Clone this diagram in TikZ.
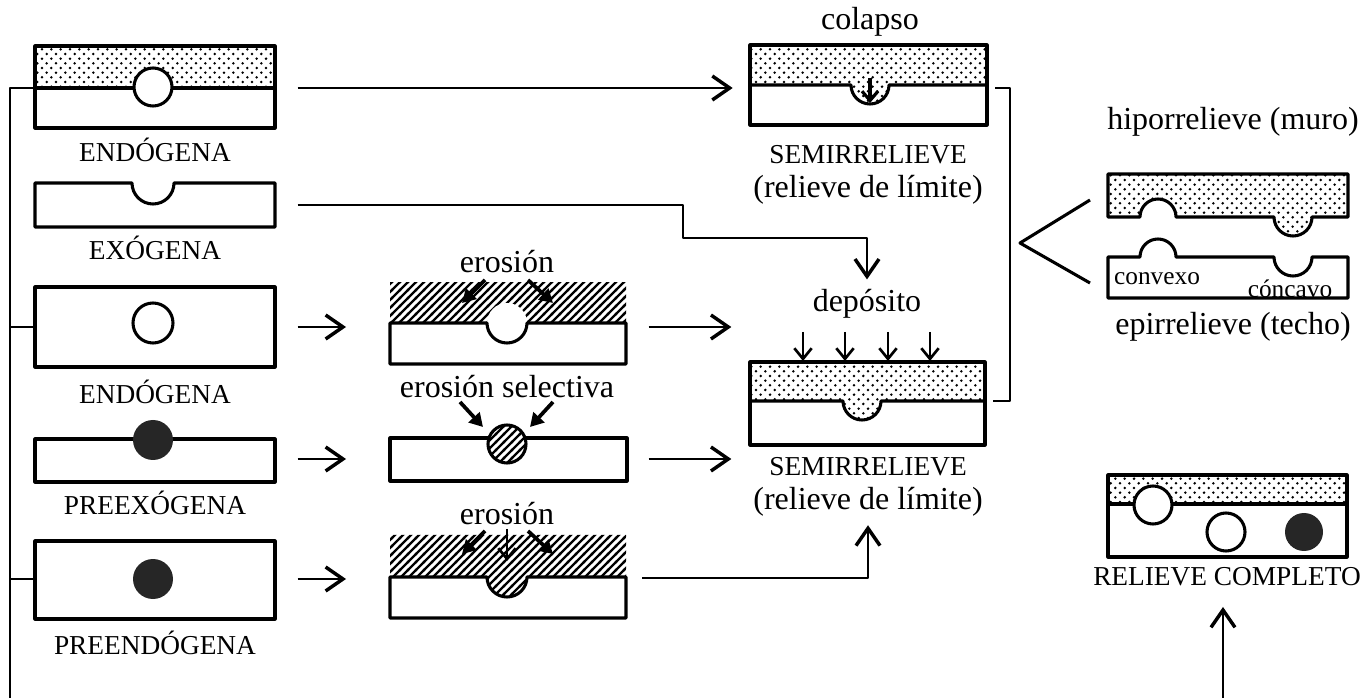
\documentclass[tikz,border=0pt]{standalone}
\usepackage{fontspec}
\setmainfont{Liberation Serif}
\usetikzlibrary{arrows.meta,patterns,calc}
\pgfdeclarepatternformonly{stipple}{\pgfqpoint{-1.5pt}{-1.5pt}}{\pgfqpoint{8.5pt}{8.5pt}}{\pgfqpoint{7pt}{7pt}}{%
  \pgfpathcircle{\pgfqpoint{0pt}{0pt}}{1.05pt}%
  \pgfpathcircle{\pgfqpoint{3.5pt}{3.5pt}}{1.05pt}%
  \pgfusepath{fill}}
\pgfdeclarepatternformonly{hatch}{\pgfqpoint{-1pt}{-1pt}}{\pgfqpoint{7pt}{7pt}}{\pgfqpoint{6pt}{6pt}}{%
  \pgfsetlinewidth{1.7pt}%
  \pgfpathmoveto{\pgfqpoint{-1pt}{-1pt}}\pgfpathlineto{\pgfqpoint{7pt}{7pt}}%
  \pgfusepath{stroke}}
\definecolor{darkf}{gray}{0.15}
\begin{document}
\begin{tikzpicture}[x=0.75pt,y=-0.75pt,line join=round,
  ln/.style={line width=2.3pt},
  conn/.style={line width=2.1pt},
  arr/.style={line width=2.1pt,-{Straight Barb[length=13pt,width=18pt,line width=2.6pt]}},
  sarr/.style={line width=1.9pt,-{Straight Barb[length=8pt,width=13pt,line width=2pt]}},
  earr/.style={line width=2.8pt,-{Triangle[length=10pt,width=11pt]}},
  anc/.style={inner sep=0pt,outer sep=0pt,draw=none},
  capl/.style={font=\fontsize{20.5}{22}\selectfont},
  lab/.style={font=\fontsize{24}{26}\selectfont},
  sml/.style={font=\fontsize{19}{21}\selectfont,inner sep=0pt},
]
\useasboundingbox (0,0) rectangle (1368,698);

% ---------- left column ----------
% A
\fill[pattern=stipple] (35,46) rectangle (275,88);
\draw[ln] (35,46) rectangle (275,128);
\draw[ln] (35,88) -- (275,88);
\draw[ln,fill=white] (153,87) circle[radius=19];
\node[anc,minimum width=180pt,minimum height=61.5pt] (A) at (155,88) {};
\node[capl] (lA) at (155,150) {ENDÓGENA};
% B
\draw[ln] (35,183) -- (132,183) arc[start angle=180,end angle=0,radius=21] -- (275,183) -- (275,227) -- (35,227) -- cycle;
\node[anc,minimum width=180pt,minimum height=33pt] (B) at (155,205) {};
\node[capl] (lB) at (155,248) {EXÓGENA};
% C
\draw[ln] (35,287) rectangle (275,367);
\draw[ln] (153,323) circle[radius=20];
\node[anc,minimum width=180pt,minimum height=60pt] (C) at (155,327) {};
\node[capl] (lC) at (155,392) {ENDÓGENA};
% D
\draw[ln] (35,439) rectangle (275,482);
\fill[darkf] (153,440) circle[radius=20];
\node[anc,minimum width=180pt,minimum height=32.25pt] (D) at (155,459) {};
\node[capl] (lD) at (155,503) {PREEXÓGENA};
% E
\draw[ln] (35,541) rectangle (275,619);
\fill[darkf] (153,579) circle[radius=20];
\node[anc,minimum width=180pt,minimum height=58.5pt] (E) at (155,579) {};
\node[capl] (lE) at (155,643) {PREENDÓGENA};
% left bracket
\coordinate (brT) at (10,88);
\coordinate (brB) at (10,698);
\draw[conn] (A.west) -- (brT) -- (brB);
\draw[conn] (C.west) -- (C.west -| brT);
\draw[conn] (E.west) -- (E.west -| brT);

% ---------- middle column ----------
% F
\fill[pattern=hatch] (390,283) rectangle (626,323);
\fill[white] (507,323) circle[radius=20];
\draw[ln] (390,323) -- (487,323) arc[start angle=180,end angle=0,radius=20] -- (626,323) -- (626,364) -- (390,364) -- cycle;
\node[anc,minimum width=177pt,minimum height=60.75pt] (F) at (508,327) {};
\node[lab] (lF) at (507,262) {erosión};
\draw[earr] (485,280) -- (462,303);
\draw[earr] (528,280) -- (553,303);
% G
\draw[ln] (390,438) rectangle (627,481);
\fill[white] (507,444) circle[radius=19];
\fill[pattern=hatch] (507,444) circle[radius=19];
\draw[ln] (507,444) circle[radius=19];
\node[anc,minimum width=177pt,minimum height=32.25pt] (G) at (508,459) {};
\node[lab] (lG) at (507,387) {erosión selectiva};
\draw[earr] (460,402) -- (483,427);
\draw[earr] (553,402) -- (530,427);
% H
\fill[pattern=hatch] (390,535) -- (626,535) -- (626,577) -- (527,577) arc[start angle=0,end angle=180,radius=20] -- (390,577) -- cycle;
\draw[ln] (390,577) -- (487,577) arc[start angle=180,end angle=0,radius=20] -- (626,577) -- (626,618) -- (390,618) -- cycle;
\node[anc,minimum width=177pt,minimum height=62.25pt] (H) at (508,578) {};
\node[lab] (lH) at (507,514) {erosión};
\draw[earr] (485,531) -- (462,554);
\draw[sarr,line width=1.3pt] (507,529) -- (507,561);
\draw[earr] (528,531) -- (553,554);

% ---------- semirrelieve column ----------
% I (colapso)
\fill[pattern=stipple] (750,45) -- (987,45) -- (987,85) -- (889,85) arc[start angle=0,end angle=180,radius=19] -- (750,85) -- cycle;
\draw[ln] (750,45) rectangle (987,125);
\draw[ln] (750,85) -- (851,85) arc[start angle=180,end angle=0,radius=19] -- (987,85);
\draw[line width=2.8pt,-{Straight Barb[length=7pt,width=12pt,line width=2.4pt]}] (870,78) -- (870,103);
\node[anc,minimum width=177.75pt,minimum height=60pt] (I) at (868.5,88) {};
\node[lab] (lI0) at (870,22) {colapso};
\node[capl] (lI1) at (868,155) {SEMIRRELIEVE};
\node[lab] (lI2) at (868,190) {(relieve de límite)};
% J (deposito)
\fill[pattern=stipple] (750,362) -- (985,362) -- (985,401) -- (881,401) arc[start angle=0,end angle=180,radius=19] -- (750,401) -- cycle;
\draw[ln] (750,362) rectangle (985,445);
\draw[ln] (750,401) -- (843,401) arc[start angle=180,end angle=0,radius=19] -- (985,401);
\node[anc,minimum width=176.25pt,minimum height=62.25pt] (J) at (867.5,401) {};
\node[lab] (ldep) at (867,304) {depósito};
\foreach \xx in {803,845,888,930} \draw[sarr] (\xx,332) -- (\xx,361);
\node[capl] (lJ1) at (868,467) {SEMIRRELIEVE};
\node[lab] (lJ2) at (868,502) {(relieve de límite)};

% ---------- connectors ----------
\draw[arr,shorten <=17pt,shorten >=13pt] (A.east) -- (A.east -| I.west);
\coordinate (bend) at (683,238);
\draw[arr,shorten <=17pt,shorten >=4pt] (B.east) -| (bend) -| (ldep.north);
\draw[arr,shorten <=17pt,shorten >=33pt] (C.east) -- (C.east -| F.west);
\draw[arr,shorten <=17pt,shorten >=33pt] (D.east) -- (D.east -| G.west);
\draw[arr,shorten <=17pt,shorten >=33pt] (E.east) -- (E.east -| H.west);
\draw[arr,shorten <=17pt,shorten >=14pt] (F.east) -- (F.east -| J.west);
\draw[arr,shorten <=17pt,shorten >=14pt] (G.east) -- (G.east -| J.west);
\draw[arr,shorten <=12pt,shorten >=3pt] (H.east) -| (lJ2.south);
% right bracket
\coordinate (rb) at (1010,0);
\draw[conn] ([xshift=6pt]I.east) -- (I.east -| rb) -- (J.east -| rb) -- ([xshift=6pt]J.east);
\draw[line width=2.3pt] (1090,200) -- (1020,243) -- (1090,283);

% ---------- right column ----------
\node[lab] (lK) at (1233,122) {hiporrelieve (muro)};
\draw[ln,pattern=stipple] (1108,174) -- (1348,174) -- (1348,217) -- (1312,217) arc[start angle=0,end angle=180,radius=19] -- (1176,217) arc[start angle=0,end angle=-180,radius=18] -- (1108,217) -- cycle;
\draw[ln] (1108,257) -- (1140,257) arc[start angle=180,end angle=360,radius=18] -- (1274,257) arc[start angle=180,end angle=0,radius=19] -- (1348,257) -- (1348,298) -- (1108,298) -- cycle;
\node[sml] (lcx) at (1157,279) {convexo};
\node[sml] (lcc) at (1290,289) {cóncavo};
\node[lab] (lL) at (1233,327) {epirrelieve (techo)};
% M
\fill[pattern=stipple] (1108,475) rectangle (1347,504);
\draw[ln] (1108,475) rectangle (1347,557);
\draw[ln] (1108,504) -- (1347,504);
\draw[ln,fill=white] (1153,505) circle[radius=19];
\draw[ln] (1226,532) circle[radius=19];
\fill[darkf] (1304,532) circle[radius=19];
\node[capl] (lM) at (1227,577) {RELIEVE COMPLETO};
\coordinate (mb) at (1223,698);
\draw[arr,shorten >=12pt] (mb) -- (mb |- lM.south);
\end{tikzpicture}
\end{document}
